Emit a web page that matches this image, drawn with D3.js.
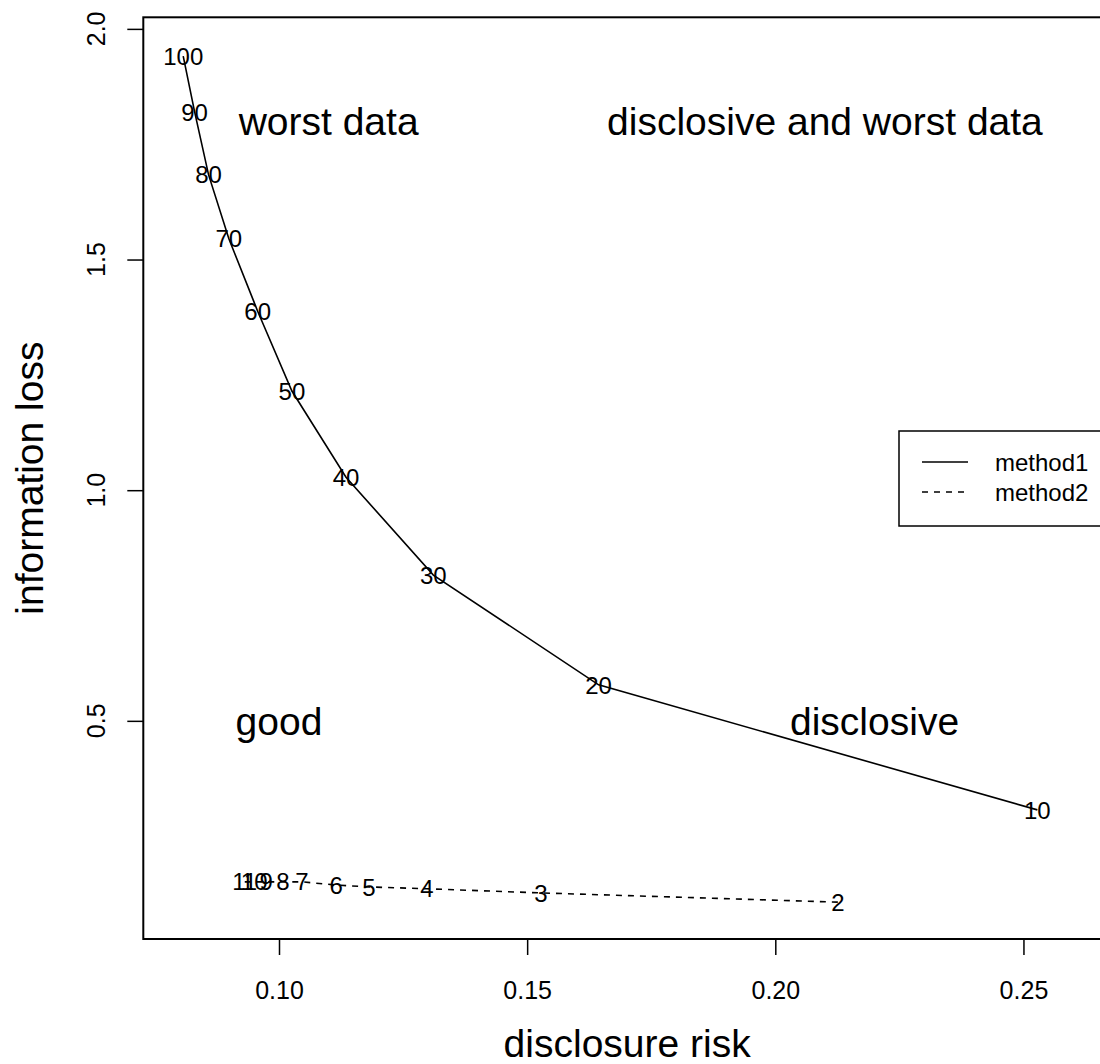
<!DOCTYPE html>
<html>
<head>
<meta charset="utf-8">
<script src="https://cdn.jsdelivr.net/npm/d3@7"></script>
<style>
  html, body { margin: 0; padding: 0; background: #fff; }
  svg { display: block; }
  text { font-family: "Liberation Sans", Arial, Helvetica, sans-serif; fill: #000; }
</style>
</head>
<body>
<svg id="chart" width="1100" height="1064"></svg>
<script>
// ---- data ----
const m1Labels = [10, 20, 30, 40, 50, 60, 70, 80, 90, 100];
const m1Risk = [0.2528, 0.1644, 0.1311, 0.1135, 0.1026, 0.0957, 0.0899, 0.0858, 0.0830, 0.0807];
const m1Loss = [0.307, 0.578, 0.816, 1.028, 1.215, 1.388, 1.545, 1.684, 1.820, 1.941];

const m2Labels = [2, 3, 4, 5, 6, 7, 8, 9, 10, 11];
const m2Risk = [0.2126, 0.1528, 0.1298, 0.1181, 0.1115, 0.1046, 0.1008, 0.0974, 0.0950, 0.0931];
const m2Loss = [0.107, 0.127, 0.136, 0.140, 0.144, 0.151, 0.151, 0.151, 0.151, 0.151];

const xTicks = [0.10, 0.15, 0.20, 0.25];
const yTicks = [0.5, 1.0, 1.5, 2.0];

const regionText = ["worst data", "disclosive and worst data", "good", "disclosive"];
const regionX = [0.11, 0.21, 0.10, 0.22];
const regionY = [1.8, 1.8, 0.5, 0.5];

const legendNames = ["method1", "method2"];
const legendDash = [null, "6,6"];

// ---- layout ----
const L = 143.3, R = 1111, T = 17.3, B = 939;
const x = d3.scaleLinear().domain([0.072658, 0.26764]).range([L, R]);
const y = d3.scaleLinear().domain([0.0271, 2.0251]).range([B, T]);

const svg = d3.select("#chart");

// plot box
svg.append("rect")
  .attr("x", L).attr("y", T).attr("width", R - L).attr("height", B - T)
  .attr("fill", "none").attr("stroke", "#000").attr("stroke-width", 2);

// x axis
const xAxis = d3.axisBottom(x).tickValues(xTicks).tickFormat(d3.format(".2f")).tickSize(16).tickPadding(26);
const gx = svg.append("g").attr("transform", `translate(0,${B})`).call(xAxis);
gx.select(".domain").remove();
gx.selectAll("line").attr("stroke", "#000").attr("stroke-width", 1.5);
gx.selectAll("text").attr("font-size", 25).attr("font-family", "Liberation Sans, Arial, sans-serif").attr("fill", "#000");

// y axis
const yAxis = d3.axisLeft(y).tickValues(yTicks).tickFormat(d3.format(".1f")).tickSize(16).tickPadding(0);
const gy = svg.append("g").attr("transform", `translate(${L},0)`).call(yAxis);
gy.select(".domain").remove();
gy.selectAll("line").attr("stroke", "#000").attr("stroke-width", 1.5);
gy.selectAll("text").remove();
yTicks.forEach(v => {
  svg.append("text")
    .attr("transform", `translate(104.5,${y(v)}) rotate(-90)`)
    .attr("text-anchor", "middle")
    .attr("font-size", 25)
    .text(d3.format(".1f")(v));
});

// axis titles
svg.append("text")
  .attr("x", (L + R) / 2).attr("y", 1057)
  .attr("text-anchor", "middle").attr("font-size", 39)
  .text("disclosure risk");
svg.append("text")
  .attr("transform", `translate(43,${(T + B) / 2}) rotate(-90)`)
  .attr("text-anchor", "middle").attr("font-size", 39)
  .text("information loss");

// lines
const line = d3.line().x(d => x(d[0])).y(d => y(d[1]));
const m1 = m1Risk.map((r, i) => [r, m1Loss[i]]);
const m2 = m2Risk.map((r, i) => [r, m2Loss[i]]);

svg.append("path").attr("d", line(m1))
  .attr("fill", "none").attr("stroke", "#000").attr("stroke-width", 1.6);
svg.append("path").attr("d", line(m2))
  .attr("fill", "none").attr("stroke", "#000").attr("stroke-width", 1.6)
  .attr("stroke-dasharray", "6,6");

// point labels
const fs = 24;
svg.append("g").selectAll("text").data(m1).join("text")
  .attr("x", d => x(d[0])).attr("y", d => y(d[1]) + 0.36 * fs)
  .attr("text-anchor", "middle").attr("font-size", fs)
  .text((d, i) => m1Labels[i]);
svg.append("g").selectAll("text").data(m2).join("text")
  .attr("x", d => x(d[0])).attr("y", d => y(d[1]) + 0.36 * fs)
  .attr("text-anchor", "middle").attr("font-size", fs)
  .text((d, i) => m2Labels[i]);

// region labels
regionText.forEach((t, i) => {
  svg.append("text")
    .attr("x", x(regionX[i])).attr("y", y(regionY[i]) + 0.36 * 39)
    .attr("text-anchor", "middle").attr("font-size", 39)
    .text(t);
});

// legend
const lg = svg.append("g");
lg.append("rect")
  .attr("x", 899).attr("y", 431).attr("width", R - 899).attr("height", 95)
  .attr("fill", "#fff").attr("stroke", "#000").attr("stroke-width", 1.5);
legendNames.forEach((n, i) => {
  const yy = 462 + i * 30;
  const ln = lg.append("line")
    .attr("x1", 922).attr("x2", 968).attr("y1", yy).attr("y2", yy)
    .attr("stroke", "#000").attr("stroke-width", 1.6);
  if (legendDash[i]) ln.attr("stroke-dasharray", legendDash[i]);
  lg.append("text")
    .attr("x", 995).attr("y", yy + 0.36 * fs)
    .attr("font-size", fs)
    .text(n);
});
</script>
</body>
</html>
